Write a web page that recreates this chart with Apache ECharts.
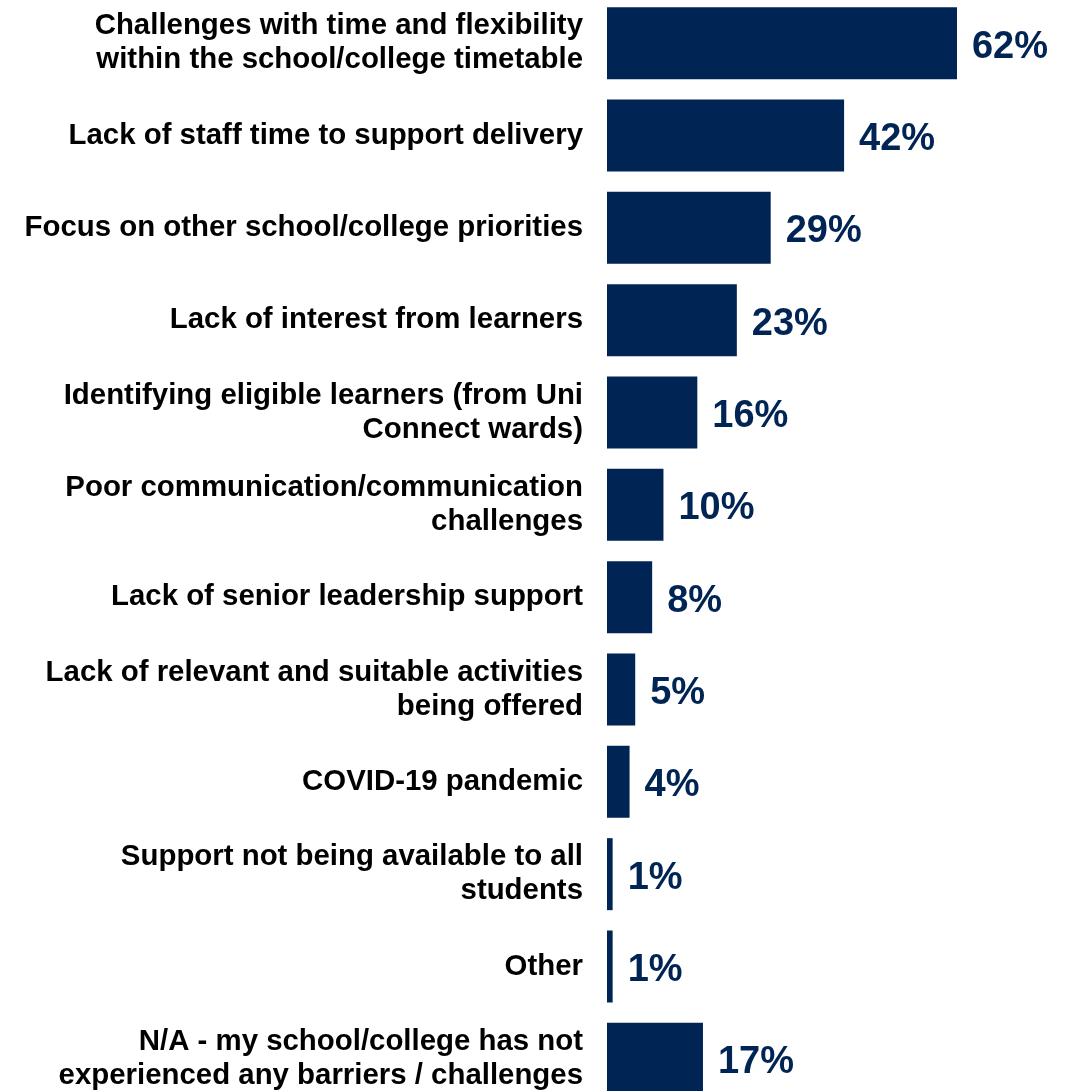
<!DOCTYPE html>
<html>
<head>
<meta charset="utf-8">
<title>Barriers to delivery</title>
<script src="https://cdn.jsdelivr.net/npm/echarts@6/dist/echarts.min.js"></script>
<style>
  html, body { margin: 0; padding: 0; background: #ffffff; }
  #chart { width: 1077px; height: 1091px; }
</style>
</head>
<body>
<div id="chart"></div>
<script>
// Barriers reported by schools/colleges (% of respondents)
const categories = [
  'Challenges with time and flexibility\nwithin the school/college timetable',
  'Lack of staff time to support delivery',
  'Focus on other school/college priorities',
  'Lack of interest from learners',
  'Identifying eligible learners (from Uni\nConnect wards)',
  'Poor communication/communication\nchallenges',
  'Lack of senior leadership support',
  'Lack of relevant and suitable activities\nbeing offered',
  'COVID-19 pandemic',
  'Support not being available to all\nstudents',
  'Other',
  'N/A - my school/college has not\nexperienced any barriers / challenges'
];
const values = [62, 42, 29, 23, 16, 10, 8, 5, 4, 1, 1, 17];

const NAVY = '#002454';

const chart = echarts.init(document.getElementById('chart'), null, { renderer: 'canvas' });
chart.setOption({
  animation: false,
  backgroundColor: '#ffffff',
  grid: {
    left: 607, top: -3, width: 564.5, height: 1108,
    containLabel: false,
    outerBoundsMode: 'none'
  },
  xAxis: {
    type: 'value',
    min: 0,
    max: 100,
    show: false
  },
  yAxis: {
    type: 'category',
    data: categories,
    inverse: true,
    axisLine: { show: false },
    axisTick: { show: false },
    splitLine: { show: false },
    axisLabel: {
      margin: 24,
      align: 'right',
      color: '#000000',
      fontFamily: 'Liberation Sans, Arial, sans-serif',
      fontWeight: 'bold',
      fontSize: 29.4,
      lineHeight: 34
    }
  },
  series: [{
    type: 'bar',
    data: values,
    barWidth: 72,
    itemStyle: { color: NAVY },
    label: {
      show: true,
      position: 'right',
      distance: 15,
      offset: [0, 4],
      formatter: '{c}%',
      color: NAVY,
      fontFamily: 'Liberation Sans, Arial, sans-serif',
      fontWeight: 'bold',
      fontSize: 38
    }
  }]
});
</script>
</body>
</html>
